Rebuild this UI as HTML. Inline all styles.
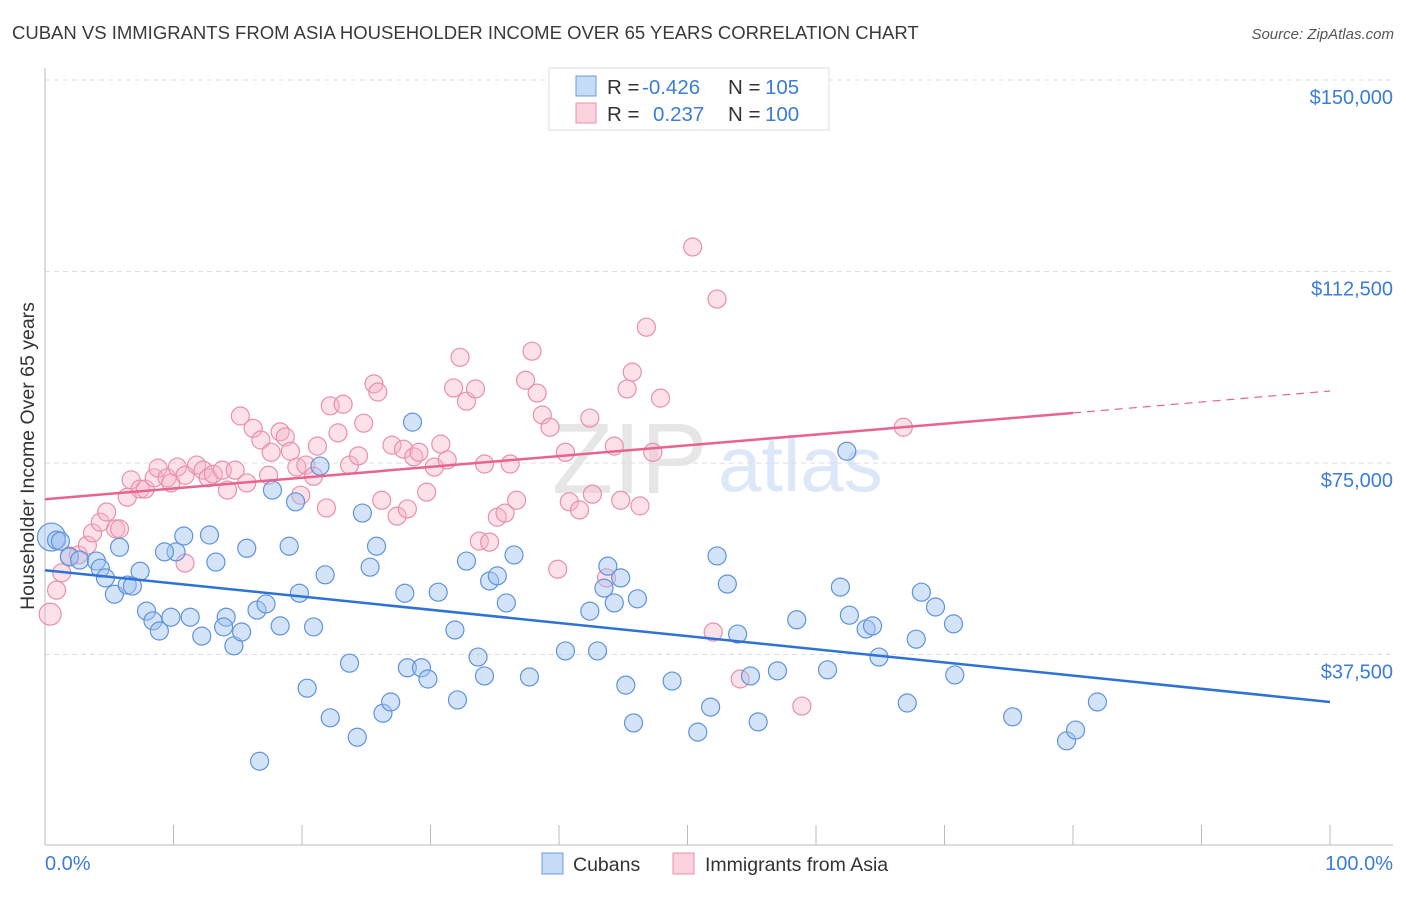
<!DOCTYPE html>
<html><head><meta charset="utf-8"><style>
body{margin:0;background:#fff;font-family:"Liberation Sans",sans-serif;}
svg text{font-family:"Liberation Sans",sans-serif;}
</style></head><body>
<svg id="chart" width="1406" height="892" viewBox="0 0 1406 892" xmlns="http://www.w3.org/2000/svg">
<text x="12" y="39" font-size="18.5" fill="#3a3a3a">CUBAN VS IMMIGRANTS FROM ASIA HOUSEHOLDER INCOME OVER 65 YEARS CORRELATION CHART</text>
<text x="1394" y="39" font-size="15" fill="#555" text-anchor="end" font-style="italic">Source: ZipAtlas.com</text>
<g>
<text x="552" y="493" font-size="100" fill="#e6e6e6" font-family="Liberation Serif, serif">ZIP</text>
<text x="718" y="491" font-size="78" fill="#dce8f7">atlas</text>
</g>
<g id="grid"></g>
<g id="axes"></g>
<g id="marks"></g>
<g id="trends"></g>
<g>
<rect x="549" y="68" width="280" height="62" fill="#fff" stroke="#ddd"/>
<rect x="576" y="76" width="20" height="20" fill="rgba(160,195,240,0.6)" stroke="#6a9be0"/>
<rect x="576" y="103" width="20" height="20" fill="rgba(248,180,200,0.6)" stroke="#e890aa"/>
<text x="607" y="94" font-size="20.5" fill="#333">R = </text><text x="642" y="94" font-size="20.5" fill="#3b7dd8">-0.426</text>
<text x="728" y="94" font-size="20.5" fill="#333">N = </text><text x="765" y="94" font-size="20.5" fill="#3b7dd8">105</text>
<text x="607" y="121" font-size="20.5" fill="#333">R = </text><text x="653" y="121" font-size="20.5" fill="#3b7dd8">0.237</text>
<text x="728" y="121" font-size="20.5" fill="#333">N = </text><text x="765" y="121" font-size="20.5" fill="#3b7dd8">100</text>
</g>
<g>
<rect x="542" y="853" width="21" height="21" fill="rgba(160,195,240,0.6)" stroke="#6a9be0"/>
<text x="573" y="871" font-size="19.5" fill="#333">Cubans</text>
<rect x="673" y="853" width="21" height="21" fill="rgba(248,180,200,0.6)" stroke="#e890aa"/>
<text x="705" y="871" font-size="19.5" fill="#333">Immigrants from Asia</text>
</g>
<text transform="translate(34,456) rotate(-90)" font-size="19.5" fill="#333" text-anchor="middle">Householder Income Over 65 years</text>
<text x="45" y="870" font-size="20" fill="#3b7dd8">0.0%</text>
<text x="1393" y="870" font-size="20" fill="#3b7dd8" text-anchor="end">100.0%</text>
</svg>
<script>
const yTicks=[37.5,75,112.5,150];
const yTickLabels=["$37,500","$75,000","$112,500","$150,000"];
const xTicks=[0,10,20,30,40,50,60,70,80,90,100];
const cubanX=[0.5,0.9,1.2,1.9,2.7,4.0,4.3,5.8,5.4,4.7,6.4,6.8,7.4,7.9,8.4,8.9,9.8,10.2,9.3,10.8,11.3,12.2,12.8,13.3,14.1,13.9,14.7,15.3,15.7,16.5,17.2,17.7,18.3,19.0,19.5,19.8,20.4,20.9,21.4,21.8,22.2,23.7,24.3,24.7,25.3,25.8,26.3,26.9,28.0,28.2,28.6,29.3,29.8,30.6,31.9,32.1,32.8,33.7,34.2,34.6,35.2,35.9,36.5,37.7,40.5,42.4,43.0,43.5,43.8,44.3,44.8,45.2,45.8,46.1,48.8,50.8,51.8,52.3,53.1,53.9,54.9,55.5,57.0,58.5,60.9,61.9,62.4,62.6,63.9,64.4,64.9,67.1,67.8,68.2,69.3,70.7,70.8,75.3,79.5,80.2,81.9,16.7];
const cubanY=[60.5,59.9,59.7,56.6,56.0,55.8,54.4,58.5,49.3,52.5,51.1,50.9,53.8,46.0,44.1,42.1,44.8,57.6,57.6,60.7,44.8,41.1,60.9,55.6,44.8,42.9,39.2,41.9,58.3,46.2,47.4,69.7,43.1,58.7,67.4,49.5,30.9,42.9,74.4,53.1,25.1,35.8,21.3,65.2,54.6,58.7,26.0,28.2,49.5,34.9,83.0,34.9,32.7,49.7,42.3,28.6,55.8,37.0,33.3,51.9,52.9,47.6,57.0,33.1,38.2,46.0,38.2,50.5,54.8,47.6,52.5,31.5,24.1,48.4,32.3,22.3,27.2,56.8,51.3,41.5,33.3,24.3,34.3,44.3,34.5,50.7,77.3,45.2,42.5,43.1,37.0,28.0,40.5,49.7,46.8,43.5,33.5,25.3,20.6,22.7,28.2,16.6];
const asiaX=[0.4,0.9,1.3,1.9,2.6,3.3,3.7,4.3,4.8,5.5,5.8,6.4,6.7,7.4,7.8,8.5,8.8,9.5,9.8,10.3,10.9,10.9,11.8,12.3,12.7,13.1,13.8,14.2,14.8,15.2,15.7,16.2,16.8,17.4,17.6,18.3,18.7,19.1,19.6,19.9,20.3,20.9,21.2,21.9,22.2,22.8,23.2,23.7,24.4,24.8,25.6,25.9,26.2,27.0,27.4,27.9,28.2,28.7,29.1,29.7,30.3,30.8,31.3,31.8,32.3,32.8,33.5,34.2,33.8,34.6,35.2,35.8,36.2,36.7,37.4,37.9,38.3,38.7,39.3,39.9,40.5,40.8,41.6,42.4,42.6,44.3,44.8,45.3,45.7,46.3,46.8,47.3,47.9,50.4,52.0,52.3,54.1,58.9,66.8,43.7];
const asiaY=[45.4,50.1,53.5,56.8,57.0,58.9,61.3,63.4,65.4,62.1,62.1,68.3,71.7,69.9,69.9,72.1,74.0,72.1,71.1,74.2,72.6,55.4,74.6,73.6,72.1,72.8,73.6,69.7,73.6,84.2,71.1,81.8,79.5,72.6,77.1,81.1,80.1,77.3,74.2,68.7,74.6,72.4,78.3,66.2,86.2,80.9,86.5,74.6,76.4,82.8,90.5,88.9,67.7,78.5,64.6,77.7,66.0,76.2,77.1,69.3,74.2,78.7,75.6,89.7,95.7,87.1,89.5,74.8,59.7,59.5,64.4,65.2,74.8,67.7,91.2,96.9,88.7,84.4,82.0,54.2,77.1,67.4,65.8,83.8,68.9,78.3,67.7,89.5,92.8,66.6,101.6,77.1,87.7,117.3,41.9,107.1,32.7,27.4,82.0,52.5];
const cubanTrend=[54.0,28.2];
const asiaTrend=[67.9,84.8,89.1];
const asiaTrendX=[0,80,100];

const NS="http://www.w3.org/2000/svg";
const X0=45,X1=1330,Y0=846,YK=191.5/37.5;
const sx=v=>X0+(X1-X0)*v/100;
const sy=v=>Y0-v*YK;
function mk(tag,attrs,parent){const e=document.createElementNS(NS,tag);for(const k in attrs)e.setAttribute(k,attrs[k]);document.getElementById(parent).appendChild(e);return e;}
yTicks.forEach((t,i)=>{
  const l=mk('line',{x1:X0,x2:1393,y1:sy(t),y2:sy(t),stroke:'#ddd','stroke-dasharray':'5,4'},'grid');
  
  
  const tx=mk('text',{x:1393,y:sy(t)+24,'font-size':20,fill:'#3b7dd8','text-anchor':'end'},'grid');
  tx.textContent=yTickLabels[i];
  
  
});
const ax=mk('line',{x1:X0,x2:1393,y1:845,y2:845,stroke:'#bbb'},'axes');


const ay=mk('line',{x1:X0,x2:X0,y1:68,y2:845,stroke:'#bbb'},'axes');


xTicks.forEach(t=>{
  const k=mk('line',{x1:sx(t),x2:sx(t),y1:825,y2:845,stroke:'#bbb'},'axes');
  
  
});
function pts(xs,ys,fill,stroke,big,name){
  xs.forEach((x,i)=>{
    const c=mk('circle',{cx:sx(x),cy:sy(ys[i]),r:i===0?big:9,fill:fill,stroke:stroke,'stroke-width':1.2},'marks');
    
    
  });
}
pts(asiaX,asiaY,'rgba(248,180,200,0.4)','#e890aa',11,'asia-point');
pts(cubanX,cubanY,'rgba(160,195,240,0.45)','#5f93dd',14,'cuban-point');
const bl=mk('line',{x1:sx(0),y1:sy(cubanTrend[0]),x2:sx(100),y2:sy(cubanTrend[1]),stroke:'#2f72d6','stroke-width':2.5},'trends');


const pl=mk('line',{x1:sx(asiaTrendX[0]),y1:sy(asiaTrend[0]),x2:sx(asiaTrendX[1]),y2:sy(asiaTrend[1]),stroke:'#e8648e','stroke-width':2.5},'trends');


const pd=mk('line',{x1:sx(asiaTrendX[1]),y1:sy(asiaTrend[1]),x2:sx(asiaTrendX[2]),y2:sy(asiaTrend[2]),stroke:'#e8648e','stroke-width':1.2,'stroke-dasharray':'8,6'},'trends');


</script>
</body></html>
